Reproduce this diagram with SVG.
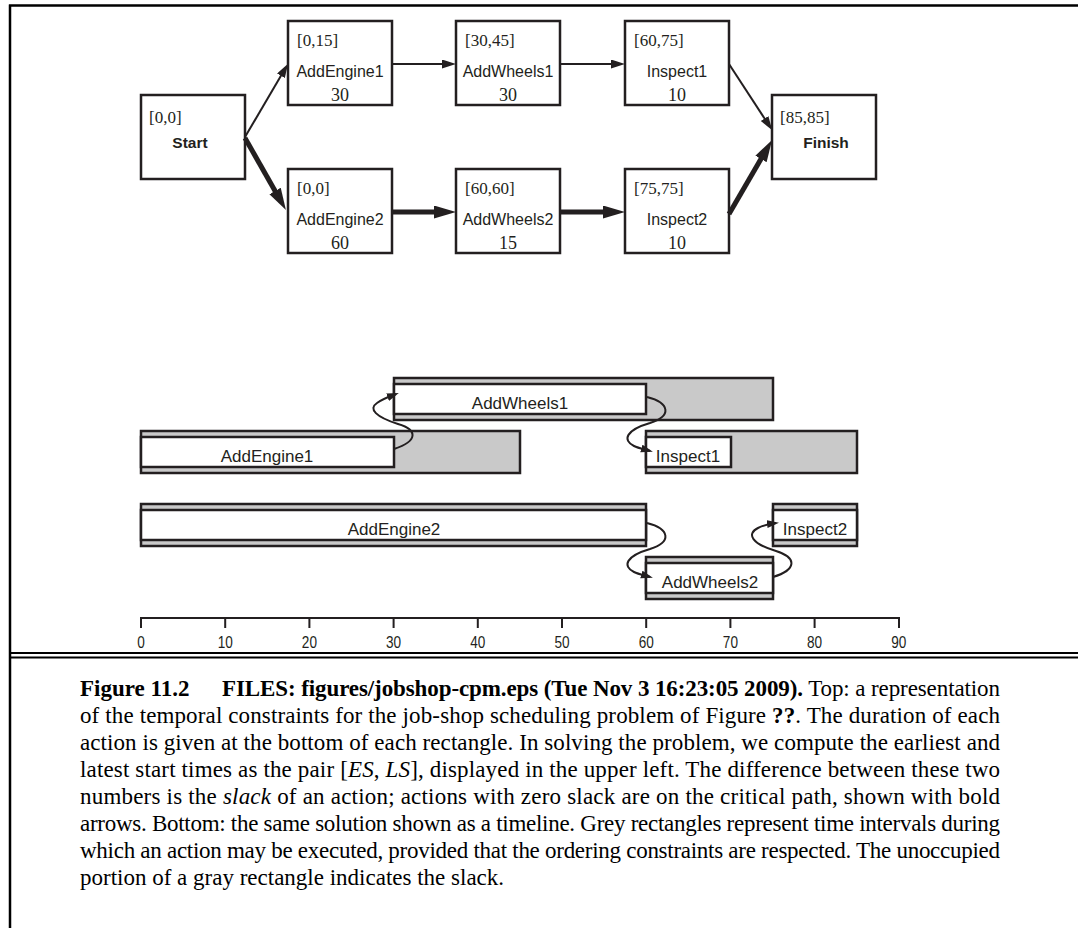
<svg xmlns="http://www.w3.org/2000/svg" width="1078" height="928" viewBox="0 0 1078 928">
<style>
.frame{stroke:#000;stroke-width:2.5;fill:none}
.box{fill:#fff;stroke:#231f20;stroke-width:2.5}
.br{font-family:"Liberation Serif","Times New Roman",serif;font-size:17px;fill:#231f20}
.nm{font-family:"Liberation Sans",Arial,sans-serif;font-size:16px;fill:#231f20;text-anchor:middle}
.bd{font-weight:bold}
.du{font-family:"Liberation Serif","Times New Roman",serif;font-size:18px;fill:#231f20;text-anchor:middle}
.outer{fill:#c9c9c9;stroke:#231f20;stroke-width:2.5}
.inner{fill:#fff;stroke:#231f20;stroke-width:2.5}
.tl{font-family:"Liberation Sans",Arial,sans-serif;font-size:17px;fill:#231f20;text-anchor:middle}
.thin{stroke:#231f20;stroke-width:2;fill:none;marker-end:url(#ah)}
.thick{stroke:#231f20;stroke-width:5;fill:none;marker-end:url(#ahb)}
.curve{stroke:#231f20;stroke-width:2;fill:none;marker-end:url(#ahc)}
.axis{stroke:#231f20;stroke-width:2;fill:none}
.ax{font-family:"Liberation Sans",Arial,sans-serif;font-size:17px;fill:#231f20;text-anchor:middle}
.cap{font-family:"Liberation Serif","Times New Roman",serif;font-size:23px;fill:#000}
</style>
<defs>
<marker id="ah" markerUnits="userSpaceOnUse" markerWidth="16" markerHeight="10" refX="9" refY="4.5" orient="auto"><path d="M0,0 L14,4.5 L0,9 z" fill="#231f20"/></marker>
<marker id="ahb" markerUnits="userSpaceOnUse" markerWidth="24" markerHeight="14" refX="11" refY="6.5" orient="auto"><path d="M0,0 L22,6.5 L0,13 z" fill="#231f20"/></marker>
<marker id="ahc" markerUnits="userSpaceOnUse" markerWidth="14" markerHeight="10" refX="9" refY="4" orient="auto"><path d="M0,0 L12,4 L0,8 z" fill="#231f20"/></marker>
</defs>

<g id="frame">
<path class="frame" d="M9,5.5 H1078 M10,4.5 V928"/>
<path class="frame" d="M10,653 H1078 M10,657.5 H1078" style="stroke-width:2"/>
</g>

<g id="node-start">
<rect class="box" x="141" y="95" width="104" height="84"/>
<text class="br" x="149" y="123">[0,0]</text>
<text class="nm bd" x="190" y="148" style="font-size:15.5px">Start</text>
</g>
<g id="node-addengine1">
<rect class="box" x="288" y="21" width="104" height="84"/>
<text class="br" x="297" y="46">[0,15]</text>
<text class="nm" x="340" y="77">AddEngine1</text>
<text class="du" x="340" y="101">30</text>
</g>
<g id="node-addwheels1">
<rect class="box" x="456" y="21" width="104" height="84"/>
<text class="br" x="465" y="46">[30,45]</text>
<text class="nm" x="508" y="77">AddWheels1</text>
<text class="du" x="508" y="101">30</text>
</g>
<g id="node-inspect1">
<rect class="box" x="625" y="21" width="104" height="84"/>
<text class="br" x="634" y="46">[60,75]</text>
<text class="nm" x="677" y="77">Inspect1</text>
<text class="du" x="677" y="101">10</text>
</g>
<g id="node-finish">
<rect class="box" x="772" y="95" width="104" height="84"/>
<text class="br" x="780" y="123">[85,85]</text>
<text class="nm bd" x="826" y="148" style="font-size:15.5px">Finish</text>
</g>
<g id="node-addengine2">
<rect class="box" x="288" y="169" width="104" height="84"/>
<text class="br" x="297" y="194">[0,0]</text>
<text class="nm" x="340" y="225">AddEngine2</text>
<text class="du" x="340" y="249">60</text>
</g>
<g id="node-addwheels2">
<rect class="box" x="456" y="169" width="104" height="84"/>
<text class="br" x="465" y="194">[60,60]</text>
<text class="nm" x="508" y="225">AddWheels2</text>
<text class="du" x="508" y="249">15</text>
</g>
<g id="node-inspect2">
<rect class="box" x="625" y="169" width="104" height="84"/>
<text class="br" x="634" y="194">[75,75]</text>
<text class="nm" x="677" y="225">Inspect2</text>
<text class="du" x="677" y="249">10</text>
</g>

<g id="timeline">
<g id="bar-addwheels1">
<rect class="outer" x="394" y="378" width="379" height="42"/>
<rect class="inner" x="394" y="384" width="252" height="30"/>
<text class="tl" x="520" y="409">AddWheels1</text>
</g>
<g id="bar-addengine1">
<rect class="outer" x="141" y="431" width="379" height="42"/>
<rect class="inner" x="141" y="437" width="253" height="30"/>
<text class="tl" x="267" y="462">AddEngine1</text>
</g>
<g id="bar-inspect1">
<rect class="outer" x="646" y="431" width="211" height="42"/>
<rect class="inner" x="646" y="437" width="85" height="30"/>
<text class="tl" x="688" y="462">Inspect1</text>
</g>
<g id="bar-addengine2">
<rect class="outer" x="141" y="504" width="505" height="42"/>
<rect class="inner" x="141" y="510" width="505" height="30"/>
<text class="tl" x="394" y="535">AddEngine2</text>
</g>
<g id="bar-inspect2">
<rect class="outer" x="773" y="504" width="84" height="42"/>
<rect class="inner" x="773" y="510" width="84" height="30"/>
<text class="tl" x="815" y="535">Inspect2</text>
</g>
<g id="bar-addwheels2">
<rect class="outer" x="646" y="557" width="127" height="42"/>
<rect class="inner" x="646" y="563" width="127" height="30"/>
<text class="tl" x="710" y="588">AddWheels2</text>
</g>
<g id="axis">
<path class="axis" d="M141,628 V618 H899 V628 M225.2,618 V628 M309.4,618 V628 M393.6,618 V628 M477.8,618 V628 M562,618 V628 M646.2,618 V628 M730.4,618 V628 M814.6,618 V628"/>
<text class="ax" transform="translate(141,648) scale(0.8,1)">0</text>
<text class="ax" transform="translate(225.2,648) scale(0.8,1)">10</text>
<text class="ax" transform="translate(309.4,648) scale(0.8,1)">20</text>
<text class="ax" transform="translate(393.6,648) scale(0.8,1)">30</text>
<text class="ax" transform="translate(477.8,648) scale(0.8,1)">40</text>
<text class="ax" transform="translate(562,648) scale(0.8,1)">50</text>
<text class="ax" transform="translate(646.2,648) scale(0.8,1)">60</text>
<text class="ax" transform="translate(730.4,648) scale(0.8,1)">70</text>
<text class="ax" transform="translate(814.6,648) scale(0.8,1)">80</text>
<text class="ax" transform="translate(898.8,648) scale(0.8,1)">90</text>
</g>
</g>

<g id="connectors">
<path class="thin" d="M245,137 L285.5,68"/>
<path class="thick" d="M245,138 L280.5,200.5"/>
<path class="thin" d="M392,64 H451"/>
<path class="thin" d="M560,64 H620"/>
<path class="thin" d="M729,64 L769.5,126"/>
<path class="thick" d="M392,212 H445"/>
<path class="thick" d="M560,212 H614"/>
<path class="thick" d="M729,214 L766.5,149.5"/>
<path class="curve" d="M394,449 C418,441 418,430 398,424 C376,417 368,409 377,403 C381,400 388,397 396,394"/>
<path class="curve" d="M647,397 C670,403 672,416 650,423 C626,430 622,440 634,446 C638,448 643,449 650,451"/>
<path class="curve" d="M647,523 C670,529 672,542 650,549 C626,556 622,566 634,572 C638,574 643,575 650,577"/>
<path class="curve" d="M773,577 C796,570 798,558 776,551 C752,544 746,534 758,528 C762,526 768,524 776,523"/>
</g>

<g id="caption">
<text class="cap bd" x="80" y="696">Figure 11.2</text>
<text class="cap" x="222" y="696" textLength="778" lengthAdjust="spacing"><tspan class="bd">FILES: figures/jobshop-cpm.eps (Tue Nov 3 16:23:05 2009).</tspan> Top: a representation</text>
<text class="cap" x="80" y="723" textLength="920" lengthAdjust="spacing">of the temporal constraints for the job-shop scheduling problem of Figure <tspan class="bd">??</tspan>. The duration of each</text>
<text class="cap" x="80" y="750" textLength="920" lengthAdjust="spacing">action is given at the bottom of each rectangle. In solving the problem, we compute the earliest and</text>
<text class="cap" x="80" y="777" textLength="920" lengthAdjust="spacing">latest start times as the pair [<tspan font-style="italic">ES</tspan>, <tspan font-style="italic">LS</tspan>], displayed in the upper left. The difference between these two</text>
<text class="cap" x="80" y="804" textLength="920" lengthAdjust="spacing">numbers is the <tspan font-style="italic">slack</tspan> of an action; actions with zero slack are on the critical path, shown with bold</text>
<text class="cap" x="80" y="831" textLength="920" lengthAdjust="spacing">arrows. Bottom: the same solution shown as a timeline. Grey rectangles represent time intervals during</text>
<text class="cap" x="80" y="858" textLength="920" lengthAdjust="spacing">which an action may be executed, provided that the ordering constraints are respected. The unoccupied</text>
<text class="cap" x="80" y="885">portion of a gray rectangle indicates the slack.</text>
</g>
</svg>
